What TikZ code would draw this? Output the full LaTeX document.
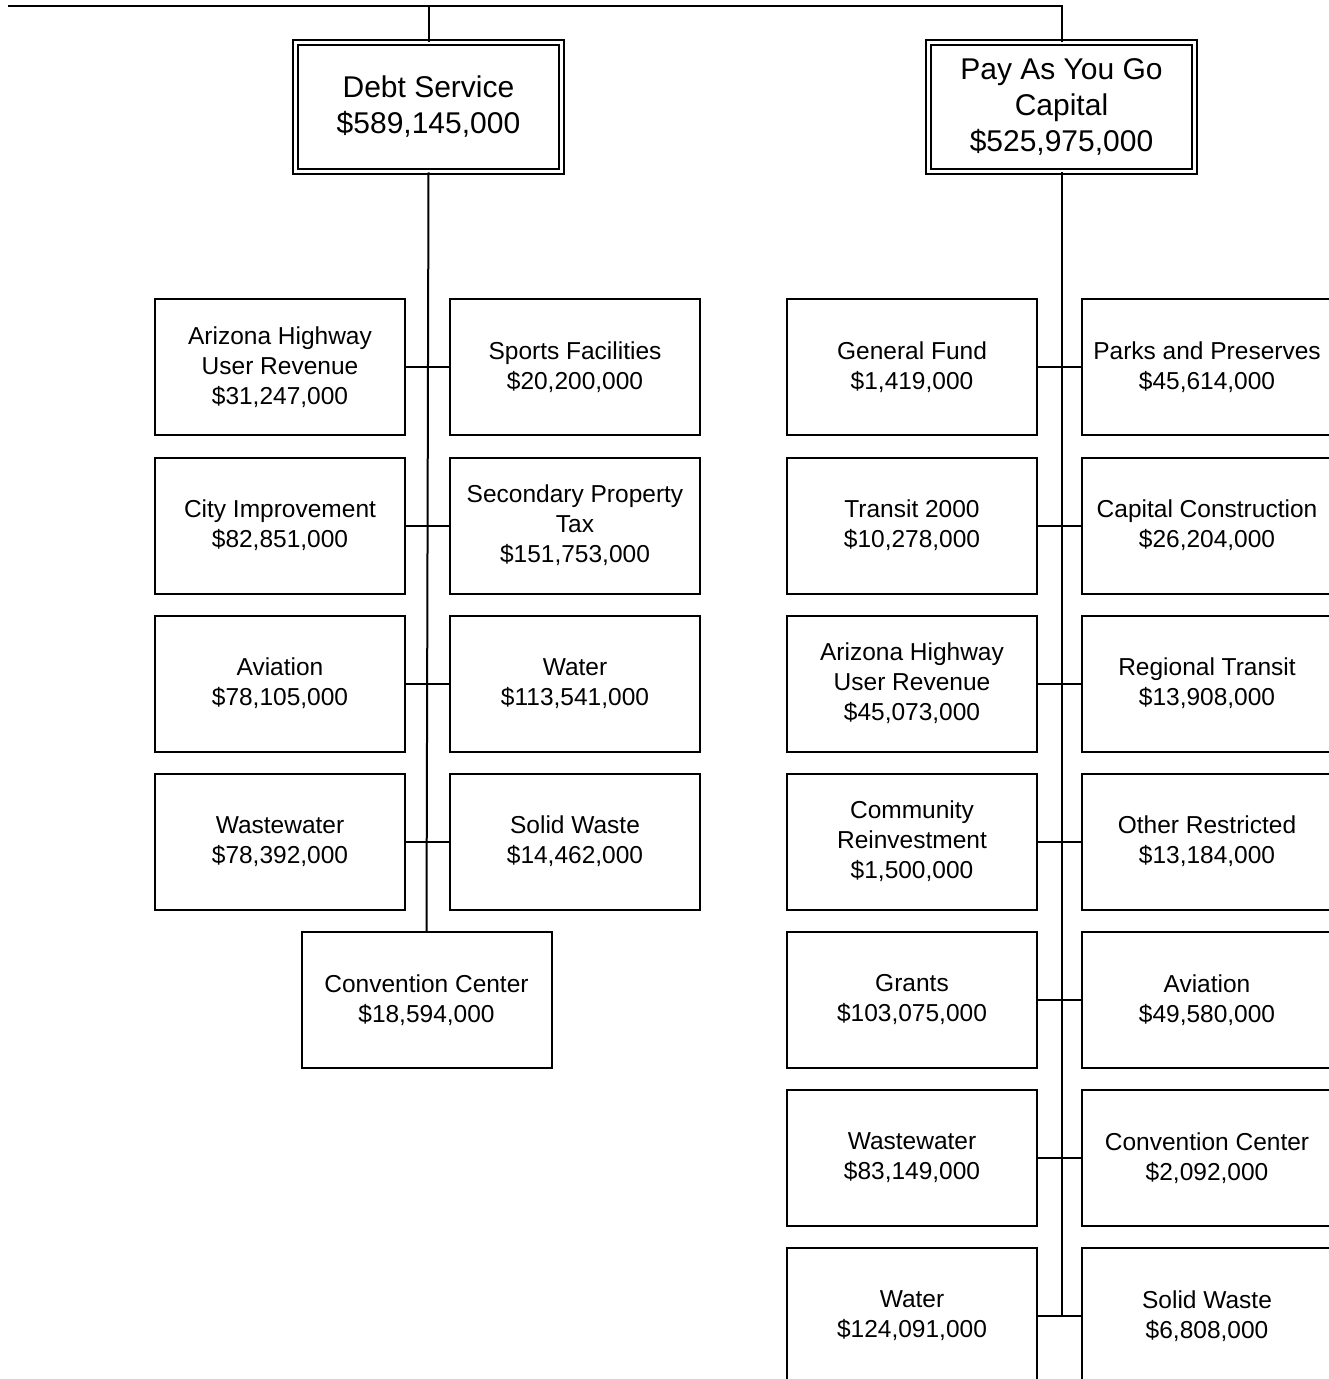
\documentclass[tikz,border=0pt]{standalone}
\usepackage{fontspec}
\setmainfont{Liberation Sans}
\begin{document}
\begin{tikzpicture}[x=1pt,y=-1pt,line join=miter,
    box/.style={draw,line width=2pt,minimum width=250pt,minimum height=136pt,inner sep=0pt,align=center,font=\fontsize{24.5}{30}\selectfont},
    head/.style={draw,line width=1.6pt,double,double distance=3pt,minimum width=266pt,minimum height=129pt,inner sep=0pt,align=center,font=\fontsize{30}{36}\selectfont},
    link/.style={line width=2pt}]
    \def\xa{280} \def\xb{575} \def\xc{912} \def\xd{1207}
    \useasboundingbox (0,0) rectangle (1329,1379);
    \clip (0,0) rectangle (1329,1379);
    % headers
    \node[head] (ds) at (428.5,107) {Debt Service\\\$589,145,000};
    \node[head] (pg) at (1061.5,107) {Pay As You Go\\Capital\\\$525,975,000};
    \coordinate (top) at (8,6);
    \draw[link] (top) -| (pg.north);
    \draw[link] (ds.north) -- (ds.north |- top);
    % debt service
    \node[box] (a1) at (\xa,367) {Arizona Highway\\User Revenue\\\$31,247,000};
    \node[box] (a2) at (\xa,525.5) {City Improvement\\\$82,851,000};
    \node[box] (a3) at (\xa,683.5) {Aviation\\\$78,105,000};
    \node[box] (a4) at (\xa,841.5) {Wastewater\\\$78,392,000};
    \node[box] (b1) at (\xb,367) {Sports Facilities\\\$20,200,000};
    \node[box] (b2) at (\xb,525.5) {Secondary Property\\Tax\\\$151,753,000};
    \node[box] (b3) at (\xb,683.5) {Water\\\$113,541,000};
    \node[box] (b4) at (\xb,841.5) {Solid Waste\\\$14,462,000};
    \node[box] (cc) at (426.5,1000) {Convention Center\\\$18,594,000};
    \draw[link] (ds.south) -- (cc.north);
    \foreach \i in {1,...,4} \draw[link] (a\i.east) -- (b\i.west);
    % pay as you go
    \node[box] (c1) at (\xc,367) {General Fund\\\$1,419,000};
    \node[box] (c2) at (\xc,525.5) {Transit 2000\\\$10,278,000};
    \node[box] (c3) at (\xc,683.5) {Arizona Highway\\User Revenue\\\$45,073,000};
    \node[box] (c4) at (\xc,841.5) {Community\\Reinvestment\\\$1,500,000};
    \node[box] (c5) at (\xc,1000) {Grants\\\$103,075,000};
    \node[box] (c6) at (\xc,1158) {Wastewater\\\$83,149,000};
    \node[box] (c7) at (\xc,1316) {Water\\\$124,091,000};
    \node[box] (d1) at (\xd,367) {Parks and Preserves\\\$45,614,000};
    \node[box] (d2) at (\xd,525.5) {Capital Construction\\\$26,204,000};
    \node[box] (d3) at (\xd,683.5) {Regional Transit\\\$13,908,000};
    \node[box] (d4) at (\xd,841.5) {Other Restricted\\\$13,184,000};
    \node[box] (d5) at (\xd,1000) {Aviation\\\$49,580,000};
    \node[box] (d6) at (\xd,1158) {Convention Center\\\$2,092,000};
    \node[box] (d7) at (\xd,1316) {Solid Waste\\\$6,808,000};
    \coordinate (end) at (pg.south |- c7.east);
    \draw[link] (pg.south) -- (end);
    \foreach \i in {1,...,7} \draw[link] (c\i.east) -- (d\i.west);
\end{tikzpicture}
\end{document}
